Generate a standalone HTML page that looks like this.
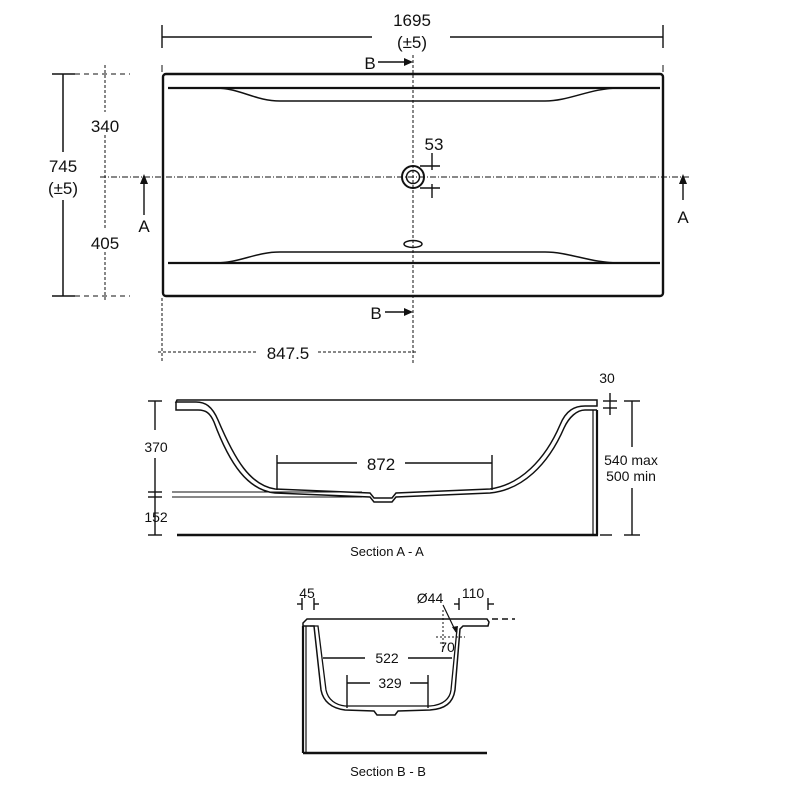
<!DOCTYPE html>
<html><head><style>
html,body{margin:0;padding:0;background:#fff}
svg{display:block}
text{font-family:"Liberation Sans Narrow","Liberation Sans",Arial,sans-serif;fill:#111;text-anchor:middle}
</style></head><body>
<svg width="800" height="800" viewBox="0 0 800 800" xmlns="http://www.w3.org/2000/svg">
<g stroke="#111" fill="none" stroke-width="1.4">
<line x1="162" y1="37" x2="372" y2="37"/><line x1="450" y1="37" x2="663" y2="37"/>
<line x1="162" y1="25" x2="162" y2="48"/><line x1="663" y1="25" x2="663" y2="48"/>
<line x1="162" y1="65" x2="162" y2="72" stroke-width="1"/><line x1="663" y1="65" x2="663" y2="72" stroke-width="1"/>
<rect x="163" y="74" width="500" height="222" rx="3" stroke-width="2.4"/>
<line x1="168" y1="88" x2="660" y2="88" stroke-width="2.2"/>
<path d="M215 88 C240 88,255 101,280 101 L545 101 C570 101,590 88,620 88" stroke-width="1.5"/>
<line x1="168" y1="263" x2="660" y2="263" stroke-width="2.2"/>
<path d="M215 263 C240 263,255 252,280 252 L545 252 C570 252,590 263,620 263" stroke-width="1.5"/>
<line x1="413" y1="55" x2="413" y2="365" stroke-dasharray="3,2" stroke-width="1"/>
<line x1="100" y1="177" x2="690" y2="177" stroke-dasharray="6,2,1,2" stroke-width="1"/>
<circle cx="413" cy="177" r="11" stroke-width="2"/><circle cx="413" cy="177" r="6.5" stroke-width="1.5"/>
<ellipse cx="413" cy="244" rx="9" ry="3.5" stroke-width="1.5"/>
<line x1="432" y1="153" x2="432" y2="170"/><line x1="420" y1="166" x2="440" y2="166"/>
<line x1="432" y1="184" x2="432" y2="198"/><line x1="420" y1="188" x2="440" y2="188"/>
<line x1="63" y1="74" x2="63" y2="152" stroke-width="1.5"/><line x1="63" y1="200" x2="63" y2="296" stroke-width="1.5"/>
<line x1="52" y1="74" x2="75" y2="74"/><line x1="52" y1="296" x2="75" y2="296"/>
<line x1="75" y1="74" x2="130" y2="74" stroke-dasharray="5,4" stroke-width="1"/>
<line x1="75" y1="296" x2="130" y2="296" stroke-dasharray="5,4" stroke-width="1"/>
<line x1="105" y1="65" x2="105" y2="112" stroke-dasharray="3,2" stroke-width="1"/>
<line x1="105" y1="135" x2="105" y2="228" stroke-dasharray="3,2" stroke-width="1"/>
<line x1="105" y1="252" x2="105" y2="300" stroke-dasharray="3,2" stroke-width="1"/>
<line x1="144" y1="180" x2="144" y2="215"/><line x1="683" y1="180" x2="683" y2="200"/>
<line x1="378" y1="62" x2="406" y2="62"/><line x1="385" y1="312" x2="406" y2="312"/>
<line x1="162" y1="298" x2="162" y2="362" stroke-dasharray="3,2" stroke-width="1"/>
<line x1="158" y1="352" x2="258" y2="352" stroke-dasharray="3,2" stroke-width="1"/>
<line x1="318" y1="352" x2="418" y2="352" stroke-dasharray="3,2" stroke-width="1"/>

<path d="M176 402 L196 402 C205 402,212 406,218 420 C235 460,250 485,275 489 L370 493 L374 498 L392 498 L396 493 L490 489 C520 485,545 460,560 425 C566 410,575 406,585 406 L597 406 L597 400 L177 400 Z" stroke-width="1.5"/>
<path d="M176 402 L176 410 L198 410 C206 410,210 413,214 422 C230 465,248 490,275 493 L370 497 L374 502 L392 502 L396 497 L490 493 C522 490,548 465,564 428 C569 417,577 410,585 410 L597 410" stroke-width="1.5"/>
<line x1="597" y1="410" x2="597" y2="535" stroke-width="2.2"/>
<line x1="593" y1="410" x2="593" y2="535" stroke-width="1.2"/>
<line x1="177" y1="535" x2="598" y2="535" stroke-width="2.4"/>
<line x1="172" y1="492" x2="362" y2="492" stroke-width="1"/><line x1="172" y1="497" x2="362" y2="497" stroke-width="1"/>
<line x1="155" y1="401" x2="155" y2="430"/><line x1="155" y1="458" x2="155" y2="535"/>
<line x1="148" y1="401" x2="162" y2="401"/><line x1="148" y1="492" x2="162" y2="492"/><line x1="148" y1="497" x2="162" y2="497"/><line x1="148" y1="535" x2="162" y2="535"/>
<line x1="277" y1="463" x2="357" y2="463"/><line x1="405" y1="463" x2="492" y2="463"/>
<line x1="277" y1="455" x2="277" y2="490"/><line x1="492" y1="455" x2="492" y2="490"/>
<line x1="632" y1="401" x2="632" y2="447"/><line x1="632" y1="488" x2="632" y2="535"/>
<line x1="624" y1="401" x2="640" y2="401"/><line x1="624" y1="535" x2="640" y2="535"/>
<line x1="600" y1="535" x2="612" y2="535"/>
<line x1="610" y1="393" x2="610" y2="415"/><line x1="603" y1="401" x2="617" y2="401"/><line x1="603" y1="408" x2="617" y2="408"/>

<path d="M303 623 L307 619 L487 619 L489 622 L488 626 L463 626 L460 629 L455 690 C453 703,445 709,430 710 L398 711 L395 715 L377 715 L374 711 L345 710 C330 708,323 700,321 690 L314 626 L303 626 Z" stroke-width="1.5"/>
<path d="M310 626 L318 626 L326 690 C328 700,336 705,345 706 L430 706 C444 705,450 698,451 690 L457 629" stroke-width="1.3"/>
<line x1="303" y1="626" x2="303" y2="753" stroke-width="2.2"/><line x1="306" y1="626" x2="306" y2="753" stroke-width="1.2"/>
<line x1="303" y1="753" x2="487" y2="753" stroke-width="2.4"/>
<line x1="302" y1="598" x2="302" y2="610"/><line x1="314" y1="598" x2="314" y2="610"/>
<line x1="297" y1="604" x2="302" y2="604"/><line x1="314" y1="604" x2="319" y2="604"/>
<line x1="459" y1="598" x2="459" y2="610"/><line x1="488" y1="598" x2="488" y2="610"/>
<line x1="454" y1="604" x2="459" y2="604"/><line x1="488" y1="604" x2="494" y2="604"/>
<line x1="492" y1="619" x2="515" y2="619" stroke-dasharray="6,4"/>
<line x1="443" y1="605" x2="456" y2="632" stroke-width="1.2"/>
<line x1="443" y1="610" x2="443" y2="650" stroke-dasharray="2,2" stroke-width="1"/>
<line x1="436" y1="637" x2="465" y2="637" stroke-dasharray="2,2" stroke-width="1"/>
<line x1="323" y1="658" x2="365" y2="658"/><line x1="408" y1="658" x2="452" y2="658"/>
<line x1="347" y1="683" x2="370" y2="683"/><line x1="410" y1="683" x2="428" y2="683"/>
<line x1="347" y1="675" x2="347" y2="708"/><line x1="428" y1="675" x2="428" y2="708"/>
</g>
<g fill="#111">
<polygon points="144,174 140,184 148,184"/><polygon points="683,174 679,184 687,184"/>
<polygon points="413,62 404,58 404,66"/><polygon points="413,312 404,308 404,316"/>
<polygon points="457,634 452,627 458,626"/>
</g>
<g font-size="17">
<text x="412" y="26">1695</text><text x="412" y="48">(±5)</text>
<text x="370" y="69">B</text><text x="376" y="319">B</text>
<text x="105" y="132">340</text><text x="63" y="172">745</text><text x="63" y="194">(±5)</text>
<text x="105" y="249">405</text>
<text x="144" y="232">A</text><text x="683" y="223">A</text>
<text x="434" y="150">53</text>
<text x="288" y="359">847.5</text>
<text x="381" y="470">872</text>
</g>
<g font-size="14">
<text x="156" y="452">370</text><text x="156" y="522">152</text>
<text x="607" y="383">30</text>
<text x="631" y="465">540 max</text><text x="631" y="481">500 min</text>
<text x="387" y="556" font-size="13">Section A - A</text>
<text x="307" y="598">45</text><text x="430" y="603">Ø44</text><text x="473" y="598">110</text>
<text x="447" y="652">70</text>
<text x="387" y="663">522</text><text x="390" y="688">329</text>
<text x="388" y="776" font-size="13">Section B - B</text>
</g>
</svg>
</body></html>
